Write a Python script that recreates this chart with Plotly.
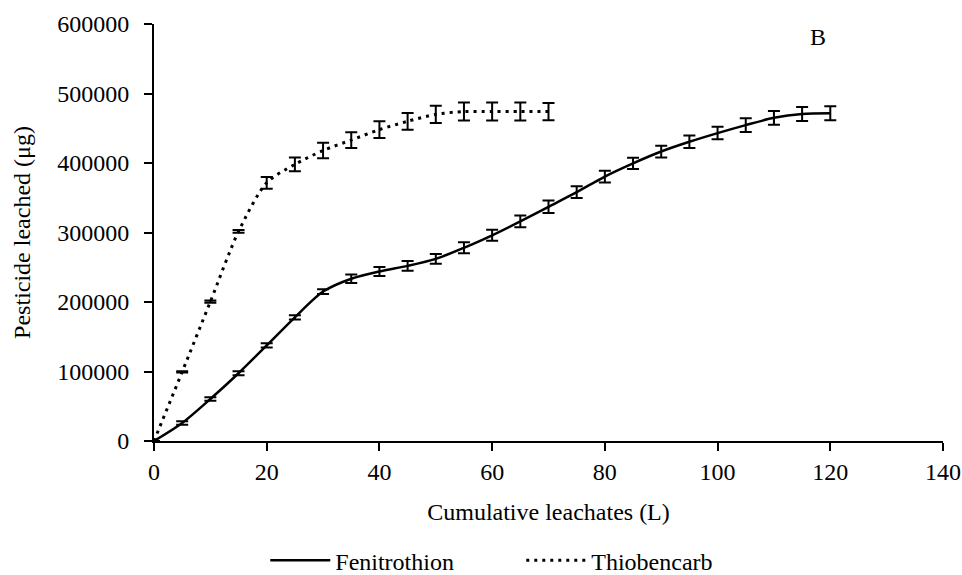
import plotly.graph_objects as go

# Data
fen_x = [0, 5, 10, 15, 20, 25, 30, 35, 40, 45, 50, 55, 60, 65, 70, 75, 80, 85, 90, 95, 100, 105, 110, 115, 120]
fen_y = [0, 26000, 60500, 97500, 137500, 178000, 215000, 233500, 244000, 252000, 262000, 278000, 296000, 316000,
         337000, 358000, 380500, 399500, 416500, 430500, 443000, 454500, 465000, 470500, 471500]
fen_err = [0, 2500, 2500, 3000, 3000, 3000, 3500, 6000, 6500, 7000, 7000, 8000, 8000, 8500,
           9000, 8500, 8400, 8000, 8500, 9000, 9000, 10000, 10000, 10000, 10000]

thio_x = [0, 5, 10, 15, 20, 25, 30, 35, 40, 45, 50, 55, 60, 65, 70]
thio_y = [0, 99500, 200500, 301500, 371500, 398000, 418000, 433000, 448000, 460000, 470000, 474000, 474000, 474000, 474000]
thio_err = [0, 1000, 1500, 2000, 8500, 10000, 11000, 11300, 12000, 12000, 12500, 13000, 13000, 13000, 12500]

x_ticks = [0, 20, 40, 60, 80, 100, 120, 140]
y_ticks = [0, 100000, 200000, 300000, 400000, 500000, 600000]

FONT = "Liberation Serif, Times New Roman, serif"

fig = go.Figure()
fig.add_trace(go.Scatter(
    x=fen_x, y=fen_y, name="Fenitrothion", mode="lines",
    line=dict(color="black", width=2.5, shape="spline", smoothing=0.8),
    error_y=dict(type="data", array=fen_err, visible=True, color="black", thickness=2, width=6),
))
fig.add_trace(go.Scatter(
    x=thio_x, y=thio_y, name="Thiobencarb", mode="lines",
    line=dict(color="black", width=3, shape="spline", smoothing=0.8, dash="3px,5px"),
    error_y=dict(type="data", array=thio_err, visible=True, color="black", thickness=2, width=6),
))

fig.add_annotation(x=117.8, y=581000, text="B", showarrow=False,
                   font=dict(family=FONT, size=24, color="black"))

fig.update_layout(
    width=962, height=575,
    margin=dict(l=154, r=19, t=24, b=134, autoexpand=False),
    paper_bgcolor="white", plot_bgcolor="white",
    font=dict(family=FONT, size=24, color="black"),
    showlegend=True,
    legend=dict(orientation="h", x=0.4655, xanchor="center", y=-0.287, yanchor="middle",
                font=dict(family=FONT, size=24, color="black"), itemwidth=60,
                entrywidth=181, entrywidthmode="pixels"),
)
fig.update_xaxes(
    range=[0, 140], tickvals=x_ticks, ticktext=[str(v) for v in x_ticks],
    showgrid=False, zeroline=False, showline=True, linecolor="black", linewidth=2,
    ticks="outside", ticklen=8, tickwidth=2, tickcolor="black", automargin=False,
    title=dict(text="Cumulative leachates (L)", standoff=19, font=dict(family=FONT, size=24)),
    tickfont=dict(family=FONT, size=24),
)
fig.update_yaxes(
    range=[0, 600000], tickvals=y_ticks, ticktext=[str(v) for v in y_ticks],
    showgrid=False, zeroline=False, showline=True, linecolor="black", linewidth=2,
    ticks="outside", ticklen=8, tickwidth=2, tickcolor="black", automargin=False,
    ticklabelstandoff=10,
    title=dict(text="Pesticide leached (μg)", standoff=20, font=dict(family=FONT, size=24)),
    tickfont=dict(family=FONT, size=24),
)

fig.write_html("out.html", config={"displayModeBar": False},
               post_script="document.body.style.margin='0';document.body.style.overflow='hidden';")
